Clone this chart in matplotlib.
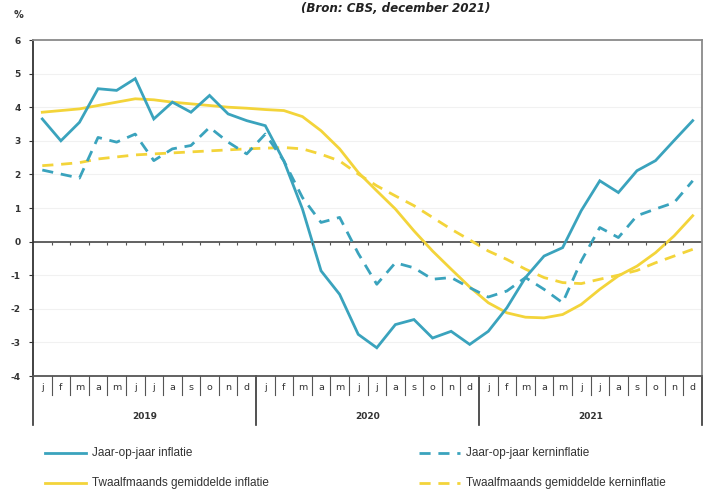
import numpy as np
import matplotlib.pyplot as plt
from matplotlib.lines import Line2D

# maanden 2019-2021
maanden = ["j", "f", "m", "a", "m", "j", "j", "a", "s", "o", "n", "d"] * 3
jaren = ["2019", "2020", "2021"]

jaar_inflatie = [3.65, 3.0, 3.55, 4.55, 4.5, 4.85, 3.65, 4.15, 3.85, 4.35, 3.8, 3.6,
                 3.45, 2.4, 0.97, -0.87, -1.57, -2.76, -3.16, -2.47, -2.32, -2.87, -2.67, -3.06,
                 -2.67, -1.97, -1.07, -0.43, -0.18, 0.92, 1.81, 1.46, 2.11, 2.41, 3.01, 3.6]
jaar_kern = [2.13, 2.01, 1.89, 3.1, 2.96, 3.2, 2.41, 2.76, 2.86, 3.4, 2.96, 2.61,
             3.2, 2.4, 1.31, 0.57, 0.72, -0.35, -1.27, -0.63, -0.78, -1.12, -1.07, -1.37,
             -1.65, -1.47, -1.07, -1.42, -1.82, -0.58, 0.42, 0.12, 0.77, 0.97, 1.16, 1.81]
gem_inflatie = [3.85, 3.9, 3.95, 4.05, 4.15, 4.25, 4.22, 4.15, 4.1, 4.05, 4.0, 3.97,
                3.93, 3.9, 3.72, 3.3, 2.76, 2.06, 1.51, 0.97, 0.32, -0.28, -0.82, -1.35,
                -1.82, -2.12, -2.25, -2.27, -2.17, -1.87, -1.42, -1.02, -0.73, -0.33, 0.17, 0.77]
gem_kern = [2.26, 2.3, 2.35, 2.46, 2.52, 2.58, 2.61, 2.64, 2.67, 2.7, 2.73, 2.76,
            2.78, 2.8, 2.76, 2.6, 2.4, 2.01, 1.66, 1.36, 1.07, 0.72, 0.37, 0.05,
            -0.28, -0.53, -0.82, -1.07, -1.22, -1.25, -1.12, -1.0, -0.86, -0.63, -0.43, -0.23]

blauw = "#3aa3bd"
geel = "#f3d43a"
stip = (0, (4, 2.8))
series = [
    ("Jaar-op-jaar inflatie", jaar_inflatie, blauw, "-"),
    ("Jaar-op-jaar kerninflatie", jaar_kern, blauw, stip),
    ("Twaalfmaands gemiddelde inflatie", gem_inflatie, geel, "-"),
    ("Twaalfmaands gemiddelde kerninflatie", gem_kern, geel, stip),
]

W, H = 705, 495
fig = plt.figure(figsize=(W / 100, H / 100), dpi=100)
ax = fig.add_axes([33 / W, 1 - 376 / H, 669 / W, 336 / H])

x = np.arange(len(maanden)) + 0.5
# volgorde: geel onder blauw
for naam, y, kleur, ls in [series[3], series[2], series[1], series[0]]:
    ax.plot(x, y, color=kleur, linestyle=ls, lw=2.0, solid_joinstyle="miter")

ax.set_xlim(0, 36)
ax.set_ylim(-4, 6)
for v in range(-3, 6):
    ax.axhline(v, color="#f1f1f1", lw=0.8, zorder=0)
ax.axhline(0, color="#555555", lw=1.3, zorder=1)
ax.vlines(np.arange(1, 36), -0.1, 0, color="#555555", lw=0.8)

ax.set_yticks(range(-4, 7))
ax.set_yticklabels([str(v) for v in range(-4, 7)], fontsize=6.5, color="#333333",
                   fontweight="bold")
ax.tick_params(axis="y", length=3, width=0.8, pad=6, colors="#333333")
ax.set_xticks([])
for s in ["top", "right"]:
    ax.spines[s].set_color("#8a8a8a")
    ax.spines[s].set_linewidth(1.3)
ax.spines["left"].set_color("#333333")
ax.spines["left"].set_linewidth(1.3)
ax.spines["bottom"].set_color("#555555")
ax.spines["bottom"].set_linewidth(1.3)

# maand- en jaaras onder de grafiek
trans = ax.get_xaxis_transform()
for i, m in enumerate(maanden):
    ax.text(i + 0.5, -0.034, m, transform=trans, ha="center", va="center",
            fontsize=6.8, color="#333333")
for b in range(1, 36):
    if b % 12:
        ax.plot([b, b], [0, -0.057], transform=trans, color="#555555", lw=0.8, clip_on=False)
for b in range(0, 37, 12):
    ax.plot([b, b], [0, -0.146], transform=trans, color="#333333", lw=1.2, clip_on=False)
for k, j in enumerate(jaren):
    ax.text(12 * k + 6, -0.122, j, transform=trans, ha="center", va="center",
            fontsize=6.5, fontweight="bold", color="#333333")

fig.text(18 / W, 1 - 15 / H, "%", fontsize=7, fontweight="bold", color="#333333",
         ha="center", va="center")
fig.text(396 / W, 1 - 8 / H, "(Bron: CBS, december 2021)", fontsize=8.6,
         fontweight="bold", style="italic", ha="center", va="center", color="#222222")

# legenda
posities = [(45, 453), (419, 453), (45, 483), (419, 483)]
for (naam, y, kleur, ls), (px, py) in zip(series, posities):
    fig.add_artist(Line2D([px / W, (px + 41) / W], [1 - py / H] * 2, color=kleur,
                          linestyle=ls, lw=2.0))
    fig.text((px + 47) / W, 1 - py / H, naam, fontsize=8.5, family="Liberation Sans",
             va="center", ha="left", color="#333333")

fig.savefig("out.png", dpi=100)
